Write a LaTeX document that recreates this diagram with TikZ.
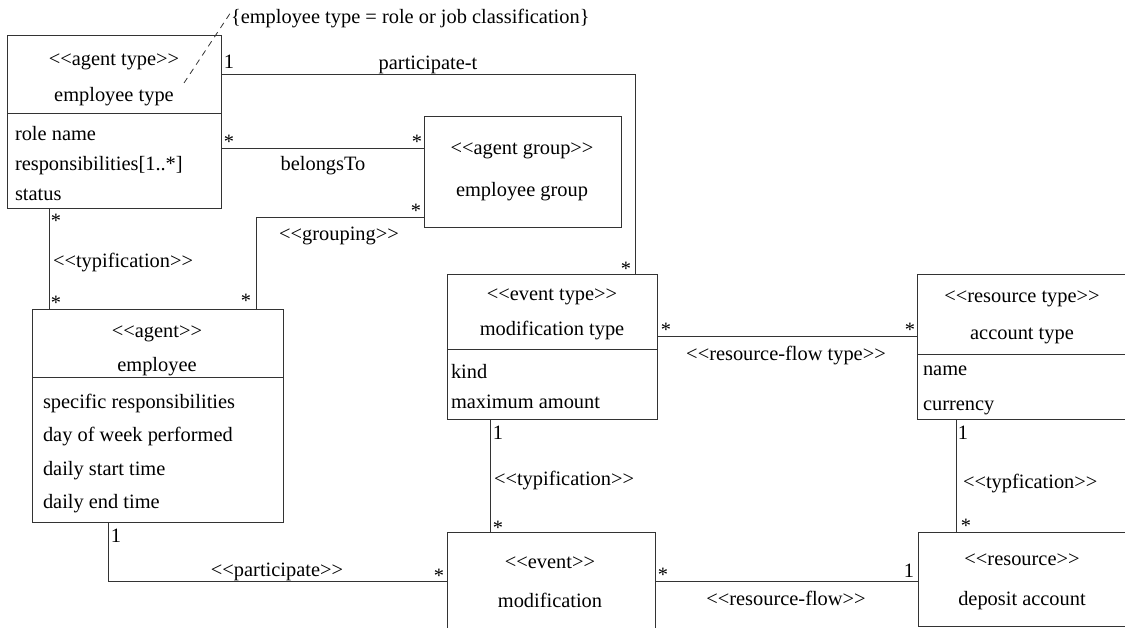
\documentclass[tikz,border=0pt]{standalone}
\usepackage{fontspec}
\newfontfamily\umlfont{Liberation Serif}
\begin{document}
\begin{tikzpicture}[x=1pt,y=-1pt,
  every node/.style={font=\umlfont\fontsize{20.4}{24}\selectfont, inner sep=0pt, outer sep=0pt},
  box/.style={draw=black!80, line width=0.85pt, anchor=north west},
  txt/.style={text height=18pt, text depth=2pt, anchor=center},
  ltxt/.style={text height=18pt, text depth=2pt, anchor=west},
  mult/.style={anchor=base},
  link/.style={draw=black!80, line width=0.85pt},
  notelink/.style={draw=black!80, line width=0.8pt, dash pattern=on 6pt off 5pt},
]
\useasboundingbox (0,0) rectangle (1125,628);
\clip (0,0) rectangle (1125,628);

% ---- class boxes ----
\node[box, minimum width=213.4pt, minimum height=173pt] (et) at (7.6,35) {};
\node[box, minimum width=197pt, minimum height=111pt] (ag) at (424,116) {};
\node[box, minimum width=251pt, minimum height=213pt] (emp) at (32,309) {};
\node[box, minimum width=210pt, minimum height=145pt] (mt) at (447,274) {};
\node[box, minimum width=230pt, minimum height=145pt] (at) at (917,274) {};
\node[box, minimum width=208pt, minimum height=110pt] (ev) at (447,532) {};
\node[box, minimum width=230pt, minimum height=94pt] (da) at (918,532) {};

% compartment dividers
\draw[link] (et.west |- 0,113) -- (et.east |- 0,113);
\draw[link] (emp.west |- 0,377) -- (emp.east |- 0,377);
\draw[link] (mt.west |- 0,349) -- (mt.east |- 0,349);
\draw[link] (at.west |- 0,354) -- (at.east |- 0,354);

% ---- box contents ----
\node[txt] (etS) at (114,58) {<<agent type>>};
\node[txt] (etN) at (114,94) {employee type};
\node[ltxt] (etA1) at (15,133) {role name};
\node[ltxt] (etA2) at (15,163) {responsibilities[1..*]};
\node[ltxt] (etA3) at (15,193) {status};

\node[txt] (agS) at (522,147) {<<agent group>>};
\node[txt] (agN) at (522,189) {employee group};

\node[txt] (empS) at (157,330) {<<agent>>};
\node[txt] (empN) at (157,363) {employee};
\node[ltxt] (empA1) at (43,400) {specific responsibilities};
\node[ltxt] (empA2) at (43,433) {day of week performed};
\node[ltxt] (empA3) at (43,467) {daily start time};
\node[ltxt] (empA4) at (43,500) {daily end time};

\node[txt] (mtS) at (552,293) {<<event type>>};
\node[txt] (mtN) at (552,328) {modification type};
\node[ltxt] (mtA1) at (451,370) {kind};
\node[ltxt] (mtA2) at (451,401) {maximum amount};

\node[txt] (atS) at (1022,295) {<<resource type>>};
\node[txt] (atN) at (1022,332) {account type};
\node[ltxt] (atA1) at (923,367) {name};
\node[ltxt] (atA2) at (923,402) {currency};

\node[txt] (evS) at (550,560) {<<event>>};
\node[txt] (evN) at (550,599) {modification};

\node[txt] (daS) at (1022,557) {<<resource>>};
\node[txt] (daN) at (1022,597) {deposit account};

% ---- constraint note ----
\node[ltxt] (note) at (231,16) {\{employee type = role or job classification\}};
\coordinate (noteend) at (184,83);
\draw[notelink] (noteend) -- ([yshift=4pt]note.west);

% ---- associations ----
\draw[link] (et.east |- 0,74) -| (635,0 |- mt.north);
\draw[link] (et.east |- 0,148) -- (ag.west |- 0,148);
\draw[link] (ag.west |- 0,217) -| (256,0 |- emp.north);
\draw[link] (49,0 |- et.south) -- (49,0 |- emp.north);
\draw[link] (108,0 |- emp.south) |- (ev.west |- 0,581);
\draw[link] (mt.east |- 0,336) -- (at.west |- 0,336);
\draw[link] (490,0 |- mt.south) -- (490,0 |- ev.north);
\draw[link] (956,0 |- at.south) -- (956,0 |- da.north);
\draw[link] (ev.east |- 0,581) -- (da.west |- 0,581);

% association names
\node[txt] (l1) at (428,62) {participate-t};
\node[txt] (l2) at (323,163) {belongsTo};
\node[txt] (l3) at (339,233) {<<grouping>>};
\node[ltxt] (l4) at (53,260) {<<typification>>};
\node[txt] (l5) at (277,568) {<<participate>>};
\node[ltxt] (l6) at (494,477) {<<typification>>};
\node[txt] (l7) at (786,353) {<<resource-flow type>>};
\node[ltxt] (l8) at (963,480) {<<typfication>>};
\node[txt] (l9) at (786,597) {<<resource-flow>>};

% multiplicities
\node[mult] (m1) at (229,69) {1};
\node[mult] (m2) at (626,275.5) {*};
\node[mult] (m3) at (229,148.5) {*};
\node[mult] (m4) at (417,148.5) {*};
\node[mult] (m5) at (416,217.5) {*};
\node[mult] (m6) at (246,307.5) {*};
\node[mult] (m7) at (56,227.5) {*};
\node[mult] (m8) at (56,309.5) {*};
\node[mult] (m9) at (116,542) {1};
\node[mult] (m10) at (439,582.5) {*};
\node[mult] (m11) at (666,336.5) {*};
\node[mult] (m12) at (910,336.5) {*};
\node[mult] (m13) at (498,439) {1};
\node[mult] (m14) at (498,534.5) {*};
\node[mult] (m15) at (963,439) {1};
\node[mult] (m16) at (966,532.5) {*};
\node[mult] (m17) at (663,581.5) {*};
\node[mult] (m18) at (909,577) {1};
\end{tikzpicture}
\end{document}
